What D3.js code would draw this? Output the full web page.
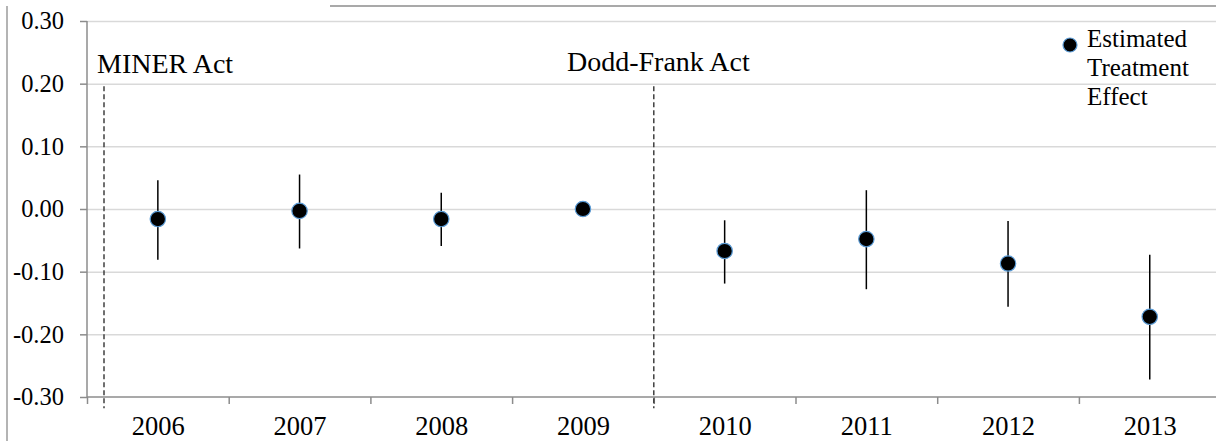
<!DOCTYPE html>
<html>
<head>
<meta charset="utf-8">
<title>Estimated Treatment Effect</title>
<script src="https://d3js.org/d3.v7.min.js"></script>
<style>
body { margin: 0; background: #fff; }
svg { display: block; font-family: "Liberation Serif", "Times New Roman", serif; }
.grid line { stroke: #d9d9d9; stroke-width: 1.5; }
.axis path, .axis line { stroke: #8c8c8c; stroke-width: 1.5; }
</style>
</head>
<body>
<script>
// data
var years = ["2006", "2007", "2008", "2009", "2010", "2011", "2012", "2013"];
var effect = [-0.016, -0.003, -0.016, 0.000, -0.067, -0.048, -0.087, -0.172];
var upper  = [0.046, 0.055, 0.026, 0.000, -0.018, 0.030, -0.019, -0.073];
var lower  = [-0.081, -0.063, -0.059, 0.000, -0.119, -0.128, -0.156, -0.272];
var yTicks = [-0.30, -0.20, -0.10, 0.00, 0.10, 0.20, 0.30];

// policy events (position in category units, 1 = first year)
var eventNames = ["MINER Act", "Dodd-Frank Act"];
var eventPos = [0.62, 4.5];
var eventTop = 0.196, eventBottom = -0.318;

var W = 1216, H = 441;
var plotLeft = 87, plotTop = 21, plotBottom = 397, band = 141.7;

var svg = d3.select("body").append("svg")
    .attr("width", W)
    .attr("height", H);

var x = d3.scaleLinear()
    .domain([0.5, years.length + 0.5])
    .range([plotLeft, plotLeft + band * years.length]);
var y = d3.scaleLinear()
    .domain([-0.30, 0.30])
    .range([plotBottom, plotTop]);

// chart area border (left + top)
svg.append("line").attr("x1", 7).attr("x2", 7).attr("y1", 6).attr("y2", H)
    .attr("stroke", "#8c8c8c").attr("stroke-width", 1.3);
svg.append("line").attr("x1", 330).attr("x2", W).attr("y1", 6).attr("y2", 6)
    .attr("stroke", "#8c8c8c").attr("stroke-width", 1.3);

// gridlines
svg.append("g")
    .attr("class", "grid")
    .attr("transform", "translate(" + plotLeft + ",0)")
    .call(d3.axisRight(y).tickValues(yTicks.slice(1)).tickSize(W - plotLeft).tickFormat(""))
    .call(function(g) { g.select(".domain").remove(); });

// y axis
svg.append("g")
    .attr("class", "axis")
    .attr("transform", "translate(" + plotLeft + ",0)")
    .call(d3.axisLeft(y).tickValues(yTicks).tickSize(7).tickPadding(16)
        .tickFormat(function(d) { return d.toFixed(2); }))
    .call(function(g) {
      g.attr("font-family", null).attr("font-size", null);
      g.select(".domain").attr("d", "M0," + plotTop + "V" + plotBottom);
      g.selectAll("text").attr("fill", "#000").style("font-size", "24.5px");
    });

// x axis: ticks between categories
var bounds = d3.range(0, years.length + 1).map(function(i) { return i + 0.5; });
svg.append("g")
    .attr("class", "axis")
    .attr("transform", "translate(0," + plotBottom + ")")
    .call(d3.axisBottom(x).tickValues(bounds).tickSize(7).tickFormat(""))
    .call(function(g) {
      g.select(".domain").attr("d", "M" + plotLeft + ",0H" + W);
    });

// x labels at category centres
svg.append("g")
    .attr("transform", "translate(0," + plotBottom + ")")
    .call(d3.axisBottom(x).tickValues(d3.range(1, years.length + 1)).tickSize(0)
        .tickFormat(function(d) { return years[d - 1]; }))
    .call(function(g) {
      g.attr("font-family", null).attr("font-size", null);
      g.select(".domain").remove();
      g.selectAll("text").attr("y", 38).attr("dy", 0)
        .attr("fill", "#000").style("font-size", "26.5px");
    });

// event lines
svg.selectAll(".event")
    .data(eventPos)
  .enter().append("line")
    .attr("class", "event")
    .attr("x1", function(d) { return x(d); })
    .attr("x2", function(d) { return x(d); })
    .attr("y1", y(eventTop))
    .attr("y2", y(eventBottom))
    .attr("stroke", "#333")
    .attr("stroke-width", 1.4)
    .attr("stroke-dasharray", "5,3");

svg.append("text").attr("x", 97).attr("y", 73)
    .style("font-size", "28px").text(eventNames[0]);
svg.append("text").attr("x", 567).attr("y", 71)
    .style("font-size", "28px").text(eventNames[1]);

// error bars
var idx = d3.range(years.length);
svg.selectAll(".err")
    .data(idx.filter(function(i) { return upper[i] !== lower[i]; }))
  .enter().append("line")
    .attr("class", "err")
    .attr("x1", function(i) { return x(i + 1); })
    .attr("x2", function(i) { return x(i + 1); })
    .attr("y1", function(i) { return y(upper[i]); })
    .attr("y2", function(i) { return y(lower[i]); })
    .attr("stroke", "#000")
    .attr("stroke-width", 1.5);

// points
svg.selectAll(".pt")
    .data(idx)
  .enter().append("circle")
    .attr("class", "pt")
    .attr("cx", function(i) { return x(i + 1); })
    .attr("cy", function(i) { return y(effect[i]); })
    .attr("r", 7.7)
    .attr("fill", "#000")
    .attr("stroke", "#5b9bd5")
    .attr("stroke-width", 1.2);

// legend
svg.append("circle").attr("cx", 1070).attr("cy", 45).attr("r", 7)
    .attr("fill", "#000").attr("stroke", "#5b9bd5").attr("stroke-width", 1.2);
var legend = svg.append("text").attr("x", 1087).attr("y", 47).style("font-size", "25px");
["Estimated", "Treatment", "Effect"].forEach(function(t, i) {
  legend.append("tspan").attr("x", 1087).attr("dy", i === 0 ? 0 : 29).text(t);
});
</script>
</body>
</html>
